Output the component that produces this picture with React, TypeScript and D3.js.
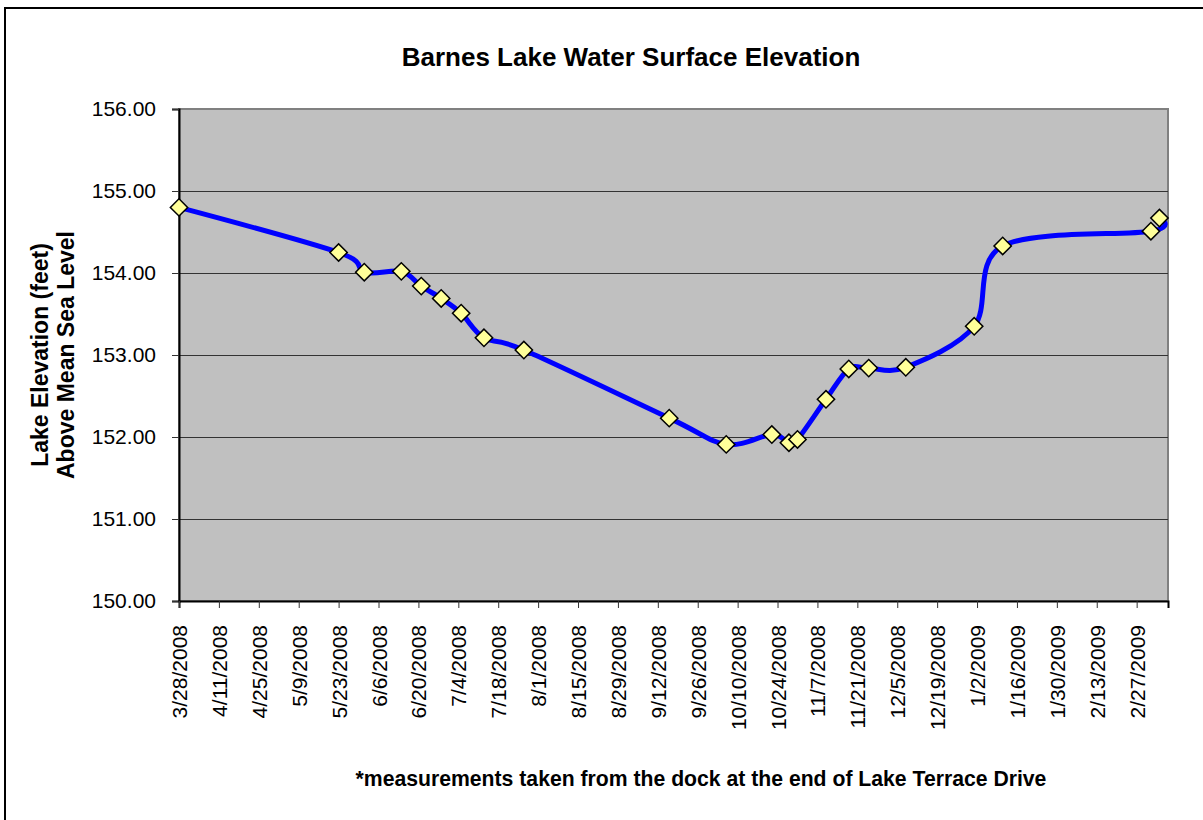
import React, { useRef, useEffect } from 'react';
import * as d3 from 'd3';

// measurement dates and lake elevations (feet above mean sea level)
const measureDates = [
  '3/28/2008', '5/23/2008', '6/1/2008', '6/14/2008', '6/21/2008', '6/28/2008',
  '7/5/2008', '7/13/2008', '7/27/2008', '9/16/2008', '10/6/2008', '10/22/2008',
  '10/28/2008', '10/31/2008', '11/10/2008', '11/18/2008', '11/25/2008', '12/8/2008',
  '1/1/2009', '1/11/2009', '3/4/2009', '3/7/2009',
];
const elevations = [
  154.80, 154.25, 154.01, 154.02, 153.84, 153.69,
  153.51, 153.21, 153.06, 152.23, 151.91, 152.03,
  151.93, 151.97, 152.46, 152.83, 152.84, 152.85,
  153.35, 154.33, 154.51, 154.67,
];

const xTickLabels = [
  '3/28/2008', '4/11/2008', '4/25/2008', '5/9/2008', '5/23/2008', '6/6/2008',
  '6/20/2008', '7/4/2008', '7/18/2008', '8/1/2008', '8/15/2008', '8/29/2008',
  '9/12/2008', '9/26/2008', '10/10/2008', '10/24/2008', '11/7/2008', '11/21/2008',
  '12/5/2008', '12/19/2008', '1/2/2009', '1/16/2009', '1/30/2009', '2/13/2009',
  '2/27/2009',
];
const yTicks = [150, 151, 152, 153, 154, 155, 156];
const xDomain = ['3/28/2008', '3/10/2009'];

const title = 'Barnes Lake Water Surface Elevation';
const yTitle = ['Lake Elevation (feet)', 'Above Mean Sea Level'];
const footnote = '*measurements taken from the dock at the end of Lake Terrace Drive';

const App = () => {
  const chartRef = useRef<SVGSVGElement>(null);

  useEffect(() => {
    const W = 1203;
    const H = 820;
    const margin = { top: 109, right: 35, bottom: 219, left: 179 };
    const width = W - margin.left - margin.right;
    const height = H - margin.top - margin.bottom;
    const font = 'Liberation Sans, Arial, sans-serif';

    const svg = d3.select(chartRef.current);
    svg.selectAll('*').remove();
    svg.attr('width', W).attr('height', H);

    const parse = d3.utcParse('%m/%d/%Y');
    const data = measureDates.map((d, i) => ({ date: parse(d) as Date, value: elevations[i] }));

    // outer chart border
    svg.append('rect')
      .attr('x', 5).attr('y', 8)
      .attr('width', W + 20).attr('height', H + 20)
      .attr('fill', 'white')
      .attr('stroke', 'black')
      .attr('stroke-width', 2);

    const g = svg.append('g')
      .attr('transform', `translate(${margin.left},${margin.top})`);

    const x = d3.scaleUtc()
      .domain(xDomain.map(d => parse(d) as Date))
      .range([0, width]);
    const y = d3.scaleLinear().domain([150, 156]).range([height, 0]);

    // plot background
    g.append('rect')
      .attr('width', width).attr('height', height)
      .attr('fill', '#c0c0c0')
      .attr('stroke', '#808080')
      .attr('stroke-width', 2);

    // gridlines
    g.append('g')
      .selectAll('line')
      .data(yTicks.filter(t => t > 150 && t < 156))
      .join('line')
      .attr('x1', 0).attr('x2', width)
      .attr('y1', d => Math.round(y(d)) + 0.5)
      .attr('y2', d => Math.round(y(d)) + 0.5)
      .attr('stroke', '#333')
      .attr('stroke-width', 1);

    // y axis
    const yAxis = g.append('g')
      .call(d3.axisLeft(y).tickValues(yTicks).tickSize(7).tickPadding(16).tickFormat(d3.format('.2f')));
    yAxis.select('.domain').attr('stroke', 'black').attr('stroke-width', 2);
    yAxis.selectAll('.tick line').attr('stroke', '#333');
    yAxis.selectAll('text')
      .attr('font-family', font).attr('font-size', 21).attr('fill', 'black');

    // x axis
    const xAxis = g.append('g')
      .attr('transform', `translate(0,${height})`)
      .call(d3.axisBottom(x)
        .tickValues(xTickLabels.map(d => parse(d) as Date))
        .tickSize(7)
        .tickFormat((d, i) => xTickLabels[i]));
    xAxis.select('.domain').attr('stroke', 'black').attr('stroke-width', 2);
    xAxis.selectAll('.tick line').attr('stroke', '#333');
    xAxis.selectAll('text')
      .attr('font-family', font).attr('font-size', 21).attr('fill', 'black')
      .attr('text-anchor', 'end')
      .attr('transform', 'rotate(-90)')
      .attr('x', -24).attr('y', 0).attr('dy', '0.36em');

    // the measured line, smoothed like the original
    const line = d3.line<{ date: Date; value: number }>()
      .x(d => x(d.date))
      .y(d => y(d.value))
      .curve(d3.curveCatmullRom.alpha(0));

    g.append('path')
      .datum(data)
      .attr('fill', 'none')
      .attr('stroke', '#0000ff')
      .attr('stroke-width', 5)
      .attr('d', line);

    // diamond markers
    g.append('g')
      .selectAll('path')
      .data(data)
      .join('path')
      .attr('d', d3.symbol(d3.symbolSquare, 150)())
      .attr('transform', d => `translate(${x(d.date)},${y(d.value)}) rotate(45)`)
      .attr('fill', '#ffff99')
      .attr('stroke', 'black')
      .attr('stroke-width', 1.5);

    // title
    svg.append('text')
      .attr('x', 631).attr('y', 66)
      .attr('text-anchor', 'middle')
      .attr('font-family', font).attr('font-size', 26).attr('font-weight', 'bold')
      .text(title);

    // y axis title
    const yt = svg.append('text')
      .attr('transform', `translate(48,${margin.top + height / 2}) rotate(-90)`)
      .attr('text-anchor', 'middle')
      .attr('font-family', font).attr('font-size', 23).attr('font-weight', 'bold');
    yt.selectAll('tspan')
      .data(yTitle)
      .join('tspan')
      .attr('x', 0)
      .attr('dy', (d, i) => (i === 0 ? 0 : 26))
      .text(d => d);

    // footnote
    svg.append('text')
      .attr('x', 701).attr('y', 786)
      .attr('text-anchor', 'middle')
      .attr('font-family', font).attr('font-size', 21.2).attr('font-weight', 'bold')
      .text(footnote);
  }, []);

  return (
    <svg ref={chartRef} style={{ position: 'absolute', left: 0, top: 0 }}></svg>
  );
};

export default App;
